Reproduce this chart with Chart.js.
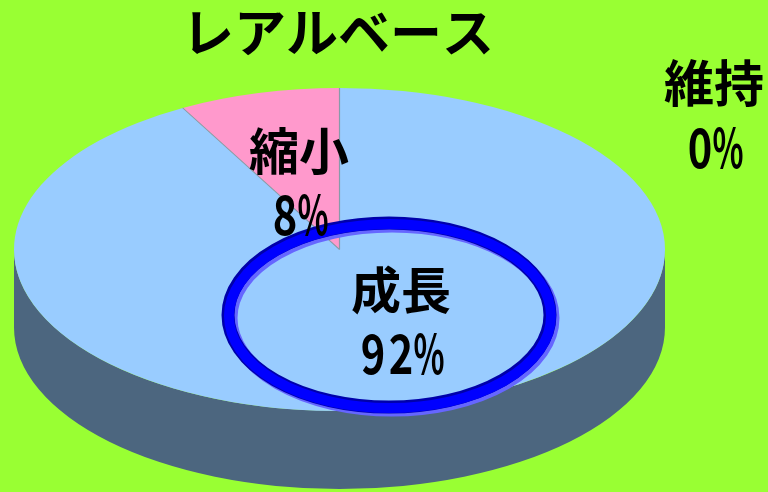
<!DOCTYPE html>
<html>
<head>
<meta charset="utf-8">
<script src="https://cdn.jsdelivr.net/npm/chart.js@4/dist/chart.umd.min.js"></script>
<style>
  html, body { margin: 0; padding: 0; background: #99FF33; }
  #wrap { width: 768px; height: 492px; }
</style>
</head>
<body>
<div id="wrap"><canvas id="pie"></canvas></div>
<script>
const title = 'レアルベース';
const categories = ['成長', '縮小', '維持'];
const values = [92, 8, 0];
const sliceColors = ['#99CCFF', '#FF99CC', '#FFFF99'];

// label anchors: x, name y, percent y
const labelPos = [
    [401, 290, 353],
    [299, 151, 214],
    [714, 83, 147],
];

const DEPTH = 78;
const FONT = '"Noto Sans CJK JP", "Noto Sans", sans-serif';
const DIGIT_PITCH = 28;

function halfTone(hex) {
    const n = parseInt(hex.slice(1), 16);
    const r = ((n >> 16) & 255) >> 1, g = ((n >> 8) & 255) >> 1, b = (n & 255) >> 1;
    return `rgb(${r},${g},${b})`;
}

// squash the pie into an ellipse and give it a side wall
const pie3d = {
    id: 'pie3d',
    beforeDatasetsDraw(chart) {
        const ctx = chart.ctx;
        const arcs = chart.getDatasetMeta(0).data;
        if (!arcs.length) return;
        const {x: cx, y: cy, outerRadius: r} = arcs[0];
        const sx = (chart.chartArea.width / 2) / r;
        ctx.save();
        ctx.translate(cx, cy);
        ctx.scale(sx, 1);
        ctx.translate(-cx, -cy);

        arcs.forEach((arc, i) => {
            for (const base of [0, 2 * Math.PI]) {
                const a = Math.max(arc.startAngle, base);
                const b = Math.min(arc.endAngle, base + Math.PI);
                if (b <= a) continue;
                ctx.beginPath();
                ctx.arc(cx, cy + DEPTH, r, a, b);
                ctx.arc(cx, cy, r, b, a, true);
                ctx.closePath();
                ctx.fillStyle = halfTone(sliceColors[i]);
                ctx.fill();
            }
        });
    },
    afterDatasetsDraw(chart) {
        const ctx = chart.ctx;
        // thin seam along the slice edges (no outer rim)
        const arcs = chart.getDatasetMeta(0).data;
        ctx.strokeStyle = '#8899AA';
        ctx.lineWidth = 0.6;
        arcs.forEach(arc => {
            if (arc.endAngle - arc.startAngle <= 0) return;
            ctx.beginPath();
            ctx.moveTo(arc.x, arc.y);
            ctx.lineTo(arc.x + arc.outerRadius * Math.cos(arc.startAngle),
                       arc.y + arc.outerRadius * Math.sin(arc.startAngle));
            ctx.stroke();
        });
        ctx.restore();
    },
    afterDraw(chart) {
        const ctx = chart.ctx;
        ctx.save();

        // highlight ring around the main slice
        ctx.lineWidth = 13;
        ctx.strokeStyle = '#6666FF';
        ctx.beginPath();
        ctx.ellipse(392, 318, 161, 92, 0, 0, 2 * Math.PI);
        ctx.stroke();
        ctx.strokeStyle = '#0000AA';
        ctx.beginPath();
        ctx.ellipse(389, 315, 161, 92, 0, 0, 2 * Math.PI);
        ctx.stroke();
        ctx.lineWidth = 10;
        ctx.strokeStyle = '#0000FF';
        ctx.beginPath();
        ctx.ellipse(390, 316, 161, 92, 0, 0, 2 * Math.PI);
        ctx.stroke();

        ctx.fillStyle = '#000';
        ctx.textAlign = 'center';
        ctx.textBaseline = 'middle';
        ctx.font = `bold 52px ${FONT}`;
        ctx.fillText(title, 338, 32);

        categories.forEach((name, i) => {
            const [x, y1, y2] = labelPos[i];
            ctx.font = `bold 50px ${FONT}`;
            ctx.fillText(name, x, y1);
            // percentages: narrow, tall glyphs at a fixed pitch
            const txt = values[i] + '%';
            const x0 = x - (txt.length - 1) * DIGIT_PITCH / 2;
            ctx.font = `bold 52px ${FONT}`;
            [...txt].forEach((ch, k) => {
                ctx.save();
                ctx.translate(x0 + k * DIGIT_PITCH, y2);
                ctx.scale(ch === '%' ? 0.62 : 0.8, 1.05);
                ctx.fillText(ch, 0, 0);
                ctx.restore();
            });
        });
        ctx.restore();
    }
};

new Chart(document.getElementById('pie'), {
    type: 'pie',
    data: {
        labels: categories,
        datasets: [{
            data: values,
            backgroundColor: sliceColors,
            borderWidth: 0,
            clip: false,
        }]
    },
    options: {
        responsive: true,
        maintainAspectRatio: false,
        animation: false,
        events: [],
        layout: {
            padding: {left: 14, right: 103, top: 88, bottom: 81}
        },
        plugins: {
            legend: {display: false},
            tooltip: {enabled: false},
            title: {display: false},
        }
    },
    plugins: [pie3d]
});
</script>
</body>
</html>
